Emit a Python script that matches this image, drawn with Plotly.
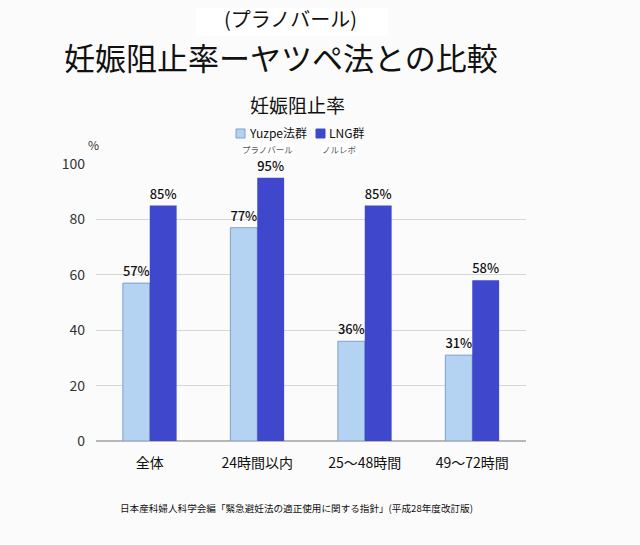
import plotly.graph_objects as go

categories = ["全体", "24時間以内", "25～48時間", "49～72時間"]
yuzpe = [57, 77, 36, 31]
lng = [85, 95, 85, 58]
series_names = ["Yuzpe法群", "LNG群"]
series_sublabels = ["プラノバール", "ノルレボ"]
tick_vals = [0, 20, 40, 60, 80, 100]

FONT = "Noto Sans CJK JP"
W, H = 640, 545
LIGHT, LIGHT_EDGE, DARK = "#b4d3f3", "#7f9fcf", "#3f48cc"

def py(p):
    return (H - p) / H

def px(p):
    return p / W

fig = go.Figure()
fig.add_trace(go.Bar(
    x=categories, y=yuzpe, name=series_names[0],
    marker=dict(color=LIGHT, line=dict(color=LIGHT_EDGE, width=1)),
    text=[f"{v}%" for v in yuzpe], textposition="outside",
    textfont=dict(family=FONT, size=13, color="#111", weight=500), cliponaxis=False,
))
fig.add_trace(go.Bar(
    x=categories, y=lng, name=series_names[1],
    marker=dict(color=DARK, line=dict(color=DARK, width=0)),
    text=[f"{v}%" for v in lng], textposition="outside",
    textfont=dict(family=FONT, size=13, color="#111", weight=500), cliponaxis=False,
))

fig.update_layout(
    width=W, height=H,
    margin=dict(l=0, r=0, t=0, b=0, autoexpand=False),
    paper_bgcolor="#fbfbfb", plot_bgcolor="rgba(0,0,0,0)",
    barmode="group", bargap=0.5, bargroupgap=0,
    font=dict(family=FONT, color="#222"),
    showlegend=False,
    xaxis=dict(domain=[px(96), px(526)], showgrid=False, showline=False, ticks="",
               automargin=False,
               tickfont=dict(family=FONT, size=14, color="#111"), ticklabelstandoff=12),
    yaxis=dict(domain=[py(441), py(164)], range=[0, 100], tickvals=tick_vals,
               automargin=False,
               showgrid=True, gridcolor="#d6d6d6", gridwidth=1, zeroline=True,
               zerolinecolor="#b8b8b8", zerolinewidth=2, showline=False,
               tickfont=dict(family=FONT, size=14, color="#333"), ticklabelstandoff=10),
)

# white patch behind the handwritten subtitle
fig.add_shape(type="rect", xref="paper", yref="paper",
              x0=px(196), x1=px(388), y0=py(36), y1=py(8),
              fillcolor="#ffffff", line=dict(width=0), layer="below")

# manual legend (swatches + names)
legend_x = [236, 316]
legend_colors = [(LIGHT, LIGHT_EDGE), (DARK, DARK)]
for lx, (fc, ec), name, sub in zip(legend_x, legend_colors, series_names, series_sublabels):
    fig.add_shape(type="rect", xref="paper", yref="paper",
                  x0=px(lx), x1=px(lx + 9), y0=py(138), y1=py(129),
                  fillcolor=fc, line=dict(color=ec, width=1))
    fig.add_annotation(text=name, x=px(lx + 11), y=py(133), xref="paper", yref="paper",
                       showarrow=False, xanchor="left", yanchor="middle",
                       font=dict(family=FONT, size=12, color="#111"))
    fig.add_annotation(text=sub, x=px(lx + 5), y=py(149), xref="paper", yref="paper",
                       showarrow=False, xanchor="left", yanchor="middle",
                       bgcolor="#ffffff", borderpad=0,
                       font=dict(family=FONT, size=8.5, color="#555"))

ann = [
    dict(text="(プラノバール)", x=px(290), y=py(19), size=20),
    dict(text="妊娠阻止率ーヤツペ法との比較", x=px(281), y=py(56), size=31),
    dict(text="妊娠阻止率", x=px(297), y=py(105), size=19),
    dict(text="%", x=px(93), y=py(145), size=12, color="#333"),
    dict(text="日本産科婦人科学会編「緊急避妊法の適正使用に関する指針」(平成28年度改訂版)",
         x=px(296), y=py(508), size=9.6),
]
for a in ann:
    fig.add_annotation(text=a["text"], x=a["x"], y=a["y"], xref="paper", yref="paper",
                       showarrow=False, xanchor="center", yanchor="middle",
                       font=dict(family=FONT, size=a["size"], color=a.get("color", "#111")))

fig.write_html("out.html", config={"displayModeBar": False},
               post_script="document.body.style.margin='0';")
